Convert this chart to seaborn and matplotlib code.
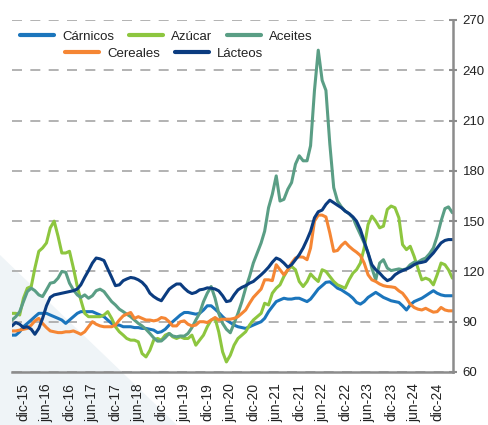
import pandas as pd
import matplotlib
matplotlib.use('Agg')
import matplotlib.pyplot as plt
from matplotlib.patches import Polygon
import seaborn as sns

# monthly index values, sep-15 .. abr-25
fechas = pd.date_range('2015-09-01', periods=116, freq='MS')

carnicos = [82, 82, 84, 87, 89, 91, 93, 95, 95, 95, 94, 93, 92, 91, 89, 91, 93, 95, 96, 96,
            96, 96, 95, 94, 93, 91, 89, 88, 88, 87, 87, 87, 86.5, 86.5, 86, 86, 85.5, 85, 83.5, 84,
            85.5, 88, 90, 92, 94, 95.5, 95.5, 95, 94.5, 95, 97, 99.5, 99.5, 97.5, 95.5, 93, 91, 89.5, 88, 87,
            86.5, 86, 87, 88, 89, 90, 92, 96, 99, 102, 103, 104, 103.5, 103.5, 104, 104, 103, 102, 103.5, 106.5,
            109.5, 111.5, 113.5, 113.8, 112, 110, 109, 107.5, 106, 104, 101.5, 100.5, 102, 104.5, 106, 107.5, 106, 104.5, 103.5, 102.5,
            102, 101.5, 99.5, 97, 100, 102, 103, 104, 105.5, 107, 108.5, 107, 106, 105.5, 105.5, 105.5]

azucar = [95, 95, 94, 104, 110, 111, 122, 132, 134, 137, 146, 150, 141, 131, 131, 132, 122, 111, 103, 95,
          93, 93, 93, 93, 94, 96, 92, 87, 84, 82, 80, 79, 79, 78, 71, 69, 73, 79, 80, 79,
          82, 83, 81, 80, 81, 80, 80, 82, 76, 79, 82, 87, 91, 92, 84, 72, 66, 70, 76, 80,
          82, 84, 88, 91, 93, 95, 101, 100, 107, 110, 112, 117, 121, 123, 121, 114, 111, 114, 118.5, 116,
          114, 121, 120, 117, 114, 112, 111, 110, 115, 119, 121, 125, 134, 148, 153, 150, 146, 147, 157, 159,
          158, 152, 136, 133, 135, 129, 122, 115, 116, 115, 112, 118, 125, 124, 121, 116]

aceites = [91, 93, 96, 102, 108, 110, 108.5, 106, 105, 109, 113, 113.5, 116, 120, 119.5, 113, 109, 106, 104.5, 106,
           104, 105.5, 108.5, 109.4, 108, 105, 102, 100, 97.5, 96, 94.5, 93, 91, 89, 87.5, 85.5, 83, 80.4, 78.4, 78.5,
           80.5, 83, 81.5, 81, 81.5, 81.4, 83, 86.5, 91, 95, 102, 107, 111, 104, 95, 89, 85.5, 83.4, 89, 95,
           102, 110, 117, 125, 131, 137, 144, 158, 166, 177, 162, 163, 169, 173, 184, 189, 186, 186, 195, 228,
           252, 234, 228, 196, 170, 162, 158.5, 156, 154.5, 152, 147, 142, 137, 131, 122, 115, 125, 127, 122, 120.5,
           121, 121.5, 121, 121.5, 124, 125.5, 125.5, 127, 128, 130.5, 134, 141, 150, 157.5, 158.5, 155]

cereales = [84.5, 84.5, 85, 85.5, 86, 88, 90.5, 92, 89, 86.5, 84.5, 84, 83.5, 83.5, 84, 84, 84.5, 83.5, 82.5, 84,
            87, 90, 88.5, 87.5, 87, 87, 87, 88, 91, 93.5, 94.5, 95.5, 92, 93, 92, 91, 91, 90.5, 91, 92.5,
            92, 90, 87.5, 87.5, 90, 90.5, 88.5, 87.5, 88, 90, 90, 89.5, 91, 92.5, 91, 91.5, 91.5, 91.5, 92, 93,
            95, 97, 101, 104.5, 107, 109.5, 115, 115, 114.5, 124, 121, 118, 121, 125, 128, 128.7, 128.5, 127, 134, 150,
            153.6, 153.6, 152.5, 143, 132, 132.5, 135.5, 137.5, 135, 133, 131.5, 129.5, 125, 118, 115, 114, 112.5, 111.5, 111, 110.8,
            110.4, 108.4, 107, 104, 100.5, 98.5, 97.5, 97, 98, 96.8, 95.7, 96, 98.5, 97, 96.5, 96.5]

lacteos = [87.5, 89.5, 88.5, 86.5, 87, 85.5, 82.5, 86, 92, 99.5, 104.5, 106, 106.5, 107, 107.5, 108, 108.5, 109.5, 112, 116.5,
           120.5, 125, 128, 127.5, 126.5, 121.5, 116.5, 111.5, 112, 114.5, 115.5, 116.4, 116, 115, 113.5, 111, 107, 105, 103.5, 102.5,
           106, 109.4, 111, 112.5, 112.5, 110, 108, 106.8, 107.5, 109, 109.4, 110.2, 110, 109.5, 108.4, 105.5, 102, 102.5, 106, 109,
           110.5, 111.5, 113, 114, 116, 118, 120, 122.5, 125.5, 128, 127, 125, 122.5, 124, 127, 130, 134, 139, 144, 152,
           155.6, 156.6, 160, 162.5, 161, 159.5, 158, 156, 154.5, 152.5, 150, 145, 138, 131, 124, 121, 119, 116.5, 114.5, 115.5,
           118, 119.5, 120.5, 121.4, 122.5, 124, 125, 125.4, 126, 128.5, 131, 134, 137, 138.5, 139, 139]

series = ['Cárnicos', 'Azúcar', 'Aceites', 'Cereales', 'Lácteos']
colores = ['#1b75bc', '#8dc63f', '#5a9e85', '#f58634', '#0b3c80']

tick_fechas = pd.date_range('2015-12-01', periods=19, freq='6MS')
tick_labels = ['dic-15', 'jun-16', 'dic-16', 'jun-17', 'dic-17', 'jun-18', 'dic-18',
               'jun-19', 'dic-19', 'jun-20', 'dic-20', 'jun-21', 'dic-21', 'jun-22',
               'dic-22', 'jun-23', 'dic-23', 'jun-24', 'dic-24']
y_ticks = [60, 90, 120, 150, 180, 210, 240, 270]

df = pd.DataFrame({'fecha': fechas, 'Cárnicos': carnicos, 'Azúcar': azucar,
                   'Aceites': aceites, 'Cereales': cereales, 'Lácteos': lacteos})
df = df.melt(id_vars='fecha', var_name='indice', value_name='valor')

sns.set_style('white')
plt.rcParams['font.family'] = ['Liberation Sans', 'DejaVu Sans']

fig = plt.figure(figsize=(4.88, 4.25), dpi=100)
# faint background shape in the lower left
fig.patches.append(Polygon([(0, 0), (0, 0.4), (177 / 488, 0)], closed=True,
                           transform=fig.transFigure, facecolor='#eff4f7',
                           edgecolor='none', zorder=-1))
ax = fig.add_axes([12 / 488, 53 / 425, 441 / 488, 352 / 425])
ax.patch.set_alpha(0)

sns.lineplot(data=df, x='fecha', y='valor', hue='indice', hue_order=series,
             palette=colores, linewidth=2.2, ax=ax, legend=False)
for ln in ax.get_lines():
    ln.set_solid_joinstyle('round')
    ln.set_solid_capstyle('round')

ax.set_xlim(fechas[0], fechas[-1] + pd.Timedelta(days=5))
ax.set_ylim(60, 270)
ax.set_xlabel('')
ax.set_ylabel('')

ax.set_xticks(tick_fechas)
ax.set_xticklabels(tick_labels, rotation=90, fontsize=10, color='#222222')
ax.yaxis.tick_right()
ax.set_yticks(y_ticks)
ax.set_yticklabels([str(v) for v in y_ticks], fontsize=9.5, color='#222222')

ax.tick_params(axis='x', direction='out', length=6, width=1.5, color='#8c8c8c', pad=2)
ax.tick_params(axis='y', direction='inout', length=6, width=1.5, color='#8c8c8c', pad=4)

for s in ['top', 'left']:
    ax.spines[s].set_visible(False)
for s in ['right', 'bottom']:
    ax.spines[s].set_color('#8c8c8c')
    ax.spines[s].set_linewidth(1.8)

ax.yaxis.grid(True, color='#a6a6a6', linewidth=1.2, linestyle=(0, (6, 5)))
ax.xaxis.grid(False)
ax.set_axisbelow(True)

lineas = ax.get_lines()[:5]
ley_kw = dict(frameon=False, fontsize=9.5, handlelength=2.6, handletextpad=0.6,
              columnspacing=1.1, borderpad=0, borderaxespad=0, labelcolor='#222222')
ley1 = fig.legend(lineas[:3], series[:3], loc='center left', ncol=3,
                  bbox_to_anchor=(20 / 488, 1 - 37 / 425), **ley_kw)
ley2 = fig.legend(lineas[3:], series[3:], loc='center left', ncol=2,
                  bbox_to_anchor=(65 / 488, 1 - 54 / 425), **ley_kw)
for ley in (ley1, ley2):
    for h in ley.get_lines():
        h.set_linewidth(3)

fig.savefig('out.png', dpi=100)
